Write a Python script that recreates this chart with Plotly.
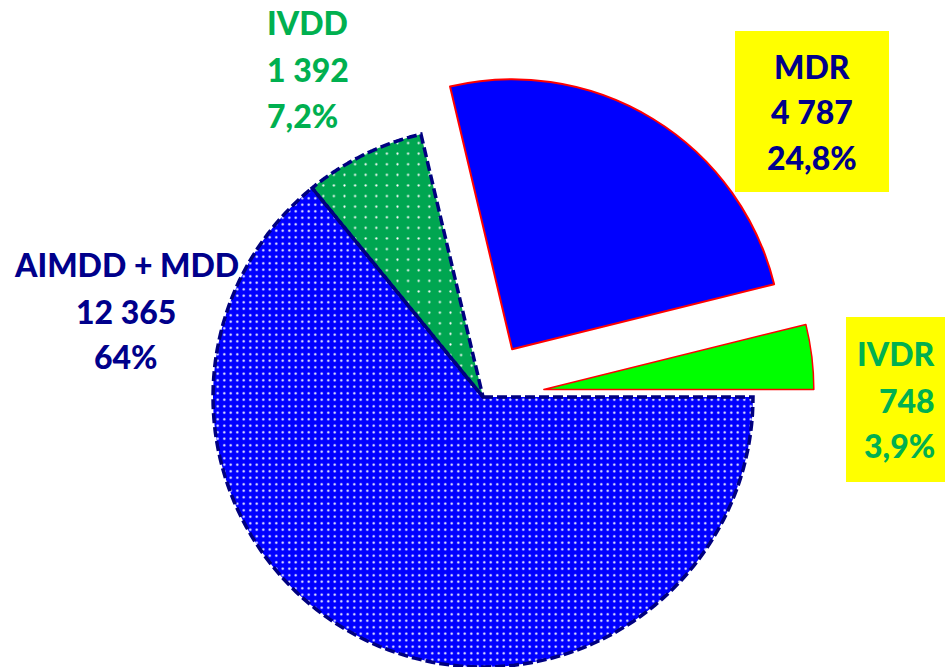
import numpy as np
import plotly.graph_objects as go

# ---------------- data ----------------
LABELS = ["AIMDD + MDD", "IVDD", "MDR", "IVDR"]
VALUES = [12365, 1392, 4787, 748]
PCT_LABELS = ["64%", "7,2%", "24,8%", "3,9%"]

# ---------------- style ----------------
PULL = [0, 0, 0.207, 0.227]
FILL = ["#0000FF", "#00A651", "#0000FF", "#00FF00"]
PATTERN = [".", ".", "", ""]
PAT_SIZE = [6.5, 10.6, 8, 8]
PAT_SOLID = [0.1, 0.035, 0.1, 0.1]
EDGE = ["#000080", "#000080", "#FF0000", "#FF0000"]
EDGE_W = [0, 0, 2, 1.5]
DASHED = [True, True, False, False]
TEXT_COL = ["#00008B", "#00B050", "#00008B", "#00B050"]

W, H = 945, 667
CX, CY, R = 483, 397, 270  # main pie centre and radius (px)

total = float(sum(VALUES))
cum = np.cumsum([0] + VALUES[:-1])
frac0 = cum / total
frac1 = (cum + np.array(VALUES)) / total
mid_frac = (frac0 + frac1) / 2.0
theta = np.deg2rad(mid_frac * 360.0)  # clockwise from 3 o'clock (screen coords)


def domain(cx, cy):
    return dict(x=[(cx - R) / W, (cx + R) / W],
                y=[max(0.0, 1 - (cy + R) / H), min(1.0, 1 - (cy - R) / H)])


fig = go.Figure()

groups = [[i for i in range(len(VALUES)) if PULL[i] == 0]] + \
         [[i] for i in range(len(VALUES)) if PULL[i] > 0]

centres = {}
for grp in groups:
    k = grp[0]
    off = PULL[k] * R
    cx = CX + off * np.cos(theta[k])
    cy = CY + off * np.sin(theta[k])
    for i in grp:
        centres[i] = (cx, cy)
    vis = [i in grp for i in range(len(VALUES))]
    n = len(VALUES)
    fig.add_trace(go.Pie(
        labels=LABELS, values=VALUES, sort=False, direction="clockwise",
        rotation=90, textinfo="none", hoverinfo="skip", showlegend=False,
        domain=domain(cx, cy),
        marker=dict(
            colors=[FILL[i] if vis[i] else "rgba(0,0,0,0)" for i in range(n)],
            line=dict(color=[EDGE[i] if vis[i] else "rgba(0,0,0,0)" for i in range(n)],
                      width=[EDGE_W[i] if vis[i] else 0 for i in range(n)]),
            pattern=dict(shape=[PATTERN[i] if vis[i] else "" for i in range(n)],
                         fgcolor="white",
                         bgcolor=[FILL[i] if vis[i] else "rgba(0,0,0,0)" for i in range(n)],
                         size=PAT_SIZE, solidity=PAT_SOLID),
        ),
    ))

shapes = []
# dashed slice outlines (computed from the slice angles)
for i in range(len(VALUES)):
    if not DASHED[i]:
        continue
    cx, cy = centres[i]
    a = np.deg2rad(np.linspace(frac0[i], frac1[i], 120) * 360.0)
    px = cx + R * np.cos(a)
    py = cy + R * np.sin(a)
    pts = [(cx, cy)] + list(zip(px, py))
    path = "M " + " L ".join(f"{x / W:.5f},{1 - y / H:.5f}" for x, y in pts) + " Z"
    shapes.append(dict(type="path", path=path, xref="paper", yref="paper",
                       layer="above", line=dict(color=EDGE[i], width=3.5, dash="10px,4px"),
                       fillcolor="rgba(0,0,0,0)"))

# ---------------- labels ----------------
FONT = "Lato, 'Open Sans', sans-serif"
FS = 32
# (x px, xanchor, [line centre y px])
LABEL_POS = [
    (126, "center", [264, 311, 357]),
    (265, "left", [23, 70, 115]),
    (812, "center", [66, 112, 157]),
    (937, "right", [353, 400, 445]),
]
BOXES = {2: (735, 31, 889, 192), 3: (846, 317, 945, 482)}

for i, (x0, y0, x1, y1) in BOXES.items():
    shapes.append(dict(type="rect", xref="paper", yref="paper", layer="below",
                       x0=x0 / W, x1=x1 / W, y0=1 - y1 / H, y1=1 - y0 / H,
                       fillcolor="#FFFF00", line=dict(width=0)))

annotations = []
for i in range(len(LABELS)):
    lines = [LABELS[i], f"{VALUES[i]:,}".replace(",", " "), PCT_LABELS[i]]
    x, xa, ys = LABEL_POS[i]
    for txt, y in zip(lines, ys):
        annotations.append(dict(
            text=txt, x=x / W, y=1 - y / H, xref="paper", yref="paper",
            xanchor=xa, yanchor="middle", showarrow=False,
            font=dict(family=FONT, size=FS, color=TEXT_COL[i], weight=900)))

fig.update_layout(
    width=W, height=H, margin=dict(l=0, r=0, t=0, b=0),
    paper_bgcolor="white", plot_bgcolor="white",
    shapes=shapes, annotations=annotations,
)

fig.write_html(
    "out.html",
    config={"displayModeBar": False},
    post_script="document.body.style.margin='0';document.body.style.overflow='hidden';",
)
